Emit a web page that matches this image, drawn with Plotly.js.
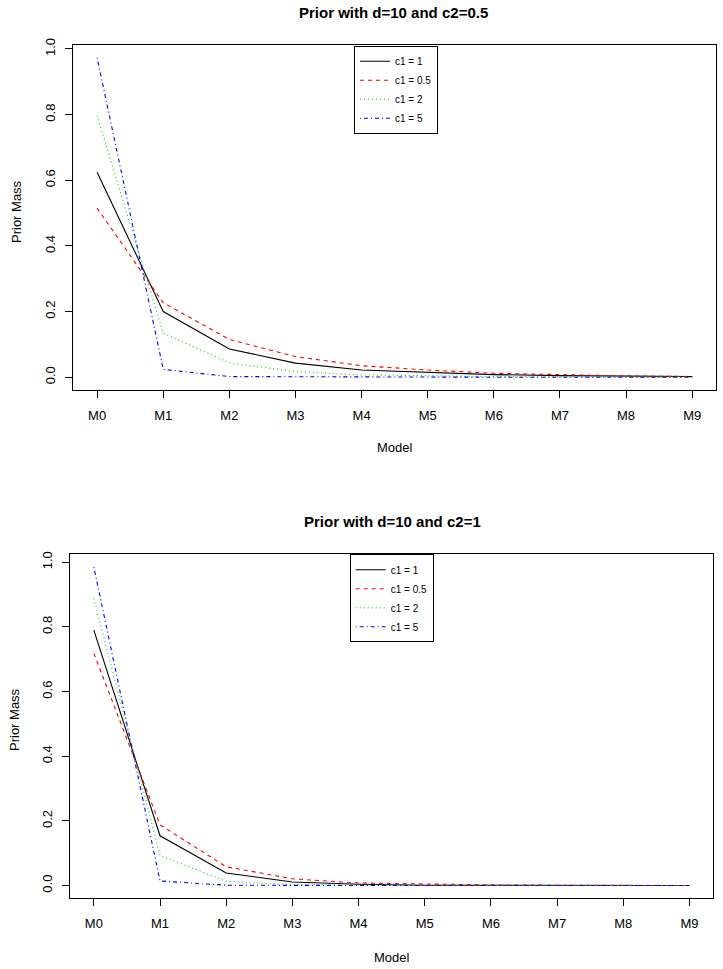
<!DOCTYPE html>
<html>
<head>
<meta charset="utf-8">
<script src="https://cdn.plot.ly/plotly-3.0.1.min.js"></script>
<style>html,body{margin:0;padding:0;background:#fff;}#chart{width:723px;height:969px;}</style>
</head>
<body>
<div id="chart"></div>
<script>
// ---- data ----
const models = ["M0","M1","M2","M3","M4","M5","M6","M7","M8","M9"];
const seriesNames = ["c1 = 1","c1 = 0.5","c1 = 2","c1 = 5"];
// Prior with d=10 and c2=0.5
const top_c1_1   = [0.624, 0.200, 0.086, 0.043, 0.022, 0.014, 0.008, 0.005, 0.003, 0.002];
const top_c1_05  = [0.515, 0.227, 0.115, 0.063, 0.035, 0.022, 0.012, 0.007, 0.004, 0.002];
const top_c1_2   = [0.797, 0.134, 0.044, 0.017, 0.007, 0.004, 0.002, 0.001, 0.001, 0.000];
const top_c1_5   = [0.973, 0.024, 0.002, 0.001, 0.000, 0.000, 0.000, 0.000, 0.000, 0.000];
// Prior with d=10 and c2=1
const bot_c1_1   = [0.790, 0.154, 0.039, 0.011, 0.004, 0.001, 0.001, 0.000, 0.000, 0.000];
const bot_c1_05  = [0.718, 0.188, 0.058, 0.021, 0.008, 0.004, 0.002, 0.001, 0.000, 0.000];
const bot_c1_2   = [0.888, 0.093, 0.013, 0.003, 0.001, 0.001, 0.000, 0.000, 0.000, 0.000];
const bot_c1_5   = [0.985, 0.014, 0.001, 0.000, 0.000, 0.000, 0.000, 0.000, 0.000, 0.000];
const yTicks = [0, 0.2, 0.4, 0.6, 0.8, 1.0];

// ---- styles ----
const colors = ["#000000", "#FF0000", "#00CD00", "#0000FF"];
const dashes = ["solid", "4px,4px", "1px,3px", "1px,3px,4px,3px"];
const FONT = "Liberation Sans Narrow, Liberation Sans, Arial, sans-serif";

function mk(vals, i, xa, ya, leg) {
  return {x: models, y: vals, type: "scatter", mode: "lines", name: seriesNames[i],
    xaxis: xa, yaxis: ya, legend: leg,
    line: {color: colors[i], width: 1.1, dash: dashes[i]}};
}
const topSets = [top_c1_1, top_c1_05, top_c1_2, top_c1_5];
const botSets = [bot_c1_1, bot_c1_05, bot_c1_2, bot_c1_5];
const traces = [];
topSets.forEach((v, i) => traces.push(mk(v, i, "x", "y", "legend")));
botSets.forEach((v, i) => traces.push(mk(v, i, "x2", "y2", "legend2")));

function yRange(sets) {
  const mx = Math.max(...sets.flat());
  return [-0.04 * mx, 1.04 * mx];
}
const W = 723, H = 969;
const px = v => v / W, py = v => 1 - v / H;

function xax(dom, anchor) {
  return {domain: dom, anchor: anchor, type: "category", categoryarray: models, range: [-0.36, 9.36],
    showline: true, mirror: true, linecolor: "#000", linewidth: 1,
    ticks: "outside", ticklen: 7, tickcolor: "#000", showgrid: false, zeroline: false,
    ticklabelstandoff: 6, tickfont: {family: FONT, size: 13, color: "#000"}, fixedrange: true};
}
function yax(dom, rng, anchor) {
  return {domain: dom, anchor: anchor, range: rng, tickvals: yTicks, tickformat: ".1f", tickangle: -90,
    showline: true, mirror: true, linecolor: "#000", linewidth: 1,
    ticks: "outside", ticklen: 7, tickcolor: "#000", showgrid: false, zeroline: false,
    ticklabelstandoff: 5, tickfont: {family: FONT, size: 13, color: "#000"}, fixedrange: true};
}
function leg(xc, ytop) {
  return {x: xc, y: ytop, xanchor: "center", yanchor: "top", bgcolor: "#fff",
    bordercolor: "#000", borderwidth: 1, font: {family: FONT, size: 10, color: "#000"},
    itemwidth: 30, tracegroupgap: 0};
}
const ann = (text, x, y, size, bold, angle) => ({text: bold ? "<b>" + text + "</b>" : text,
  x: px(x), y: py(y), xref: "paper", yref: "paper", showarrow: false,
  xanchor: "center", yanchor: "middle", textangle: angle || 0,
  font: {family: FONT, size: size, color: "#000"}});

const layout = {
  width: W, height: H, margin: {l: 0, r: 0, t: 0, b: 0},
  paper_bgcolor: "#fff", plot_bgcolor: "#fff", showlegend: true,
  xaxis: xax([px(73.3), px(716)], "y"),
  yaxis: yax([py(390), py(45)], yRange(topSets), "x"),
  xaxis2: xax([px(70), px(713.3)], "y2"),
  yaxis2: yax([py(898.3), py(554.3)], yRange(botSets), "x2"),
  legend: leg(px(396), py(45.7)),
  legend2: leg(px(391.7), py(554.3)),
  annotations: [
    ann("Prior with d=10 and c2=0.5", 394, 12, 15, true),
    ann("Prior with d=10 and c2=1", 392, 521, 15, true),
    ann("Model", 395, 448, 13, false),
    ann("Model", 392, 957, 13, false),
    ann("Prior Mass", 17, 212, 13, false, -90),
    ann("Prior Mass", 14, 720, 13, false, -90)
  ]
};
Plotly.newPlot("chart", traces, layout, {displayModeBar: false, staticPlot: true});
</script>
</body>
</html>
